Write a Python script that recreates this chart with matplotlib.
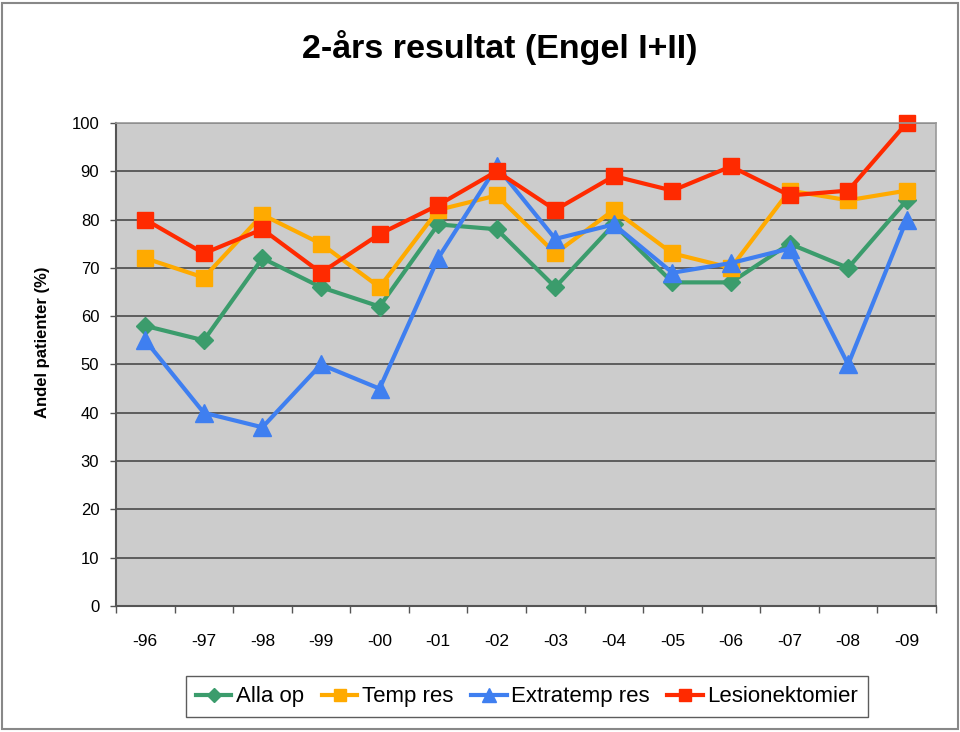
from matplotlib import pyplot as plt
from matplotlib.patches import Rectangle
from numpy import arange

plt.rcParams['font.family'] = ['Liberation Sans', 'DejaVu Sans']

years = ["-96", "-97", "-98", "-99", "-00", "-01", "-02", "-03", "-04",
         "-05", "-06", "-07", "-08", "-09"]
alla_op = [58, 55, 72, 66, 62, 79, 78, 66, 79, 67, 67, 75, 70, 84]
temp_res = [72, 68, 81, 75, 66, 82, 85, 73, 82, 73, 70, 86, 84, 86]
extratemp_res = [55, 40, 37, 50, 45, 72, 91, 76, 79, 69, 71, 74, 50, 80]
lesionektomier = [80, 73, 78, 69, 77, 83, 90, 82, 89, 86, 91, 85, 86, 100]

SERIES = [
    ("Alla op", alla_op, "#3b9c6c", "D", 9),
    ("Temp res", temp_res, "#ffaa00", "s", 11),
    ("Extratemp res", extratemp_res, "#3f7ff0", "^", 13),
    ("Lesionektomier", lesionektomier, "#ff2a00", "s", 11),
]

fig = plt.figure(figsize=(9.6, 7.32), dpi=100)
ax = fig.add_axes([0.1208, 0.1721, 0.8542, 0.6599])
ax.set_facecolor("#cccccc")

pos = arange(len(years))
handles = []
for name, vals, color, marker, msize in SERIES:
    h, = ax.plot(pos, vals, color=color, marker=marker, markersize=msize,
                 linewidth=3, label=name, clip_on=False)
    handles.append(h)

ax.set_xlim(-0.5, len(years) - 0.5)
ax.set_ylim(0, 100)
ax.set_yticks(arange(0, 101, 10))
ax.yaxis.grid(True, color="#4a4a4a", linewidth=1.2)
ax.set_axisbelow(True)

# category boundaries get the ticks, labels sit between them
ax.set_xticks(arange(-0.5, len(years), 1))
ax.set_xticklabels([])
ax.set_xticks(pos, minor=True)
ax.set_xticklabels(years, minor=True)
ax.tick_params(axis="x", which="major", length=5, width=1, color="#555555",
               direction="out")
ax.tick_params(axis="x", which="minor", length=0, pad=20, labelsize=12.5)
ax.tick_params(axis="y", length=4, width=1, color="#555555", labelsize=12,
               pad=8)

for side in ("left", "bottom"):
    ax.spines[side].set_color("#555555")
    ax.spines[side].set_linewidth(1.5)
for side in ("top", "right"):
    ax.spines[side].set_color("#999999")
    ax.spines[side].set_linewidth(1.2)

fig.text(0.044, 0.533, "Andel patienter (%)", rotation=90, ha="center",
         va="center", fontsize=12, fontweight="bold")
fig.text(0.521, 0.935, "2-års resultat (Engel I+II)", ha="center",
         va="center", fontsize=24.5, fontweight="bold")

fig.legend(handles=handles, loc="center", bbox_to_anchor=(0.549, 0.048),
           ncol=4, fontsize=16, frameon=True, fancybox=False,
           edgecolor="#333333", handlelength=1.6, handletextpad=0.2,
           columnspacing=0.8, borderpad=0.45, markerscale=0.8)

fig.patches.append(Rectangle((0.002, 0.004), 0.996, 0.992,
                             transform=fig.transFigure, fill=False,
                             edgecolor="#888888", linewidth=1.5))

plt.savefig("out.png", dpi=100)
